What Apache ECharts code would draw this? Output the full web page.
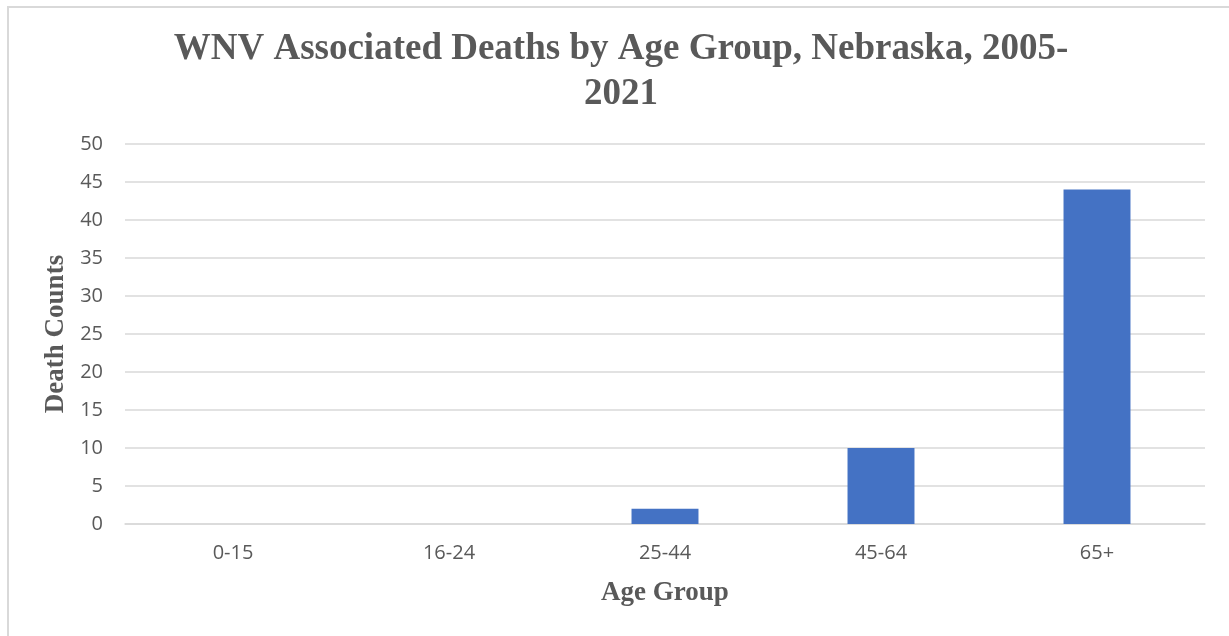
<!DOCTYPE html>
<html>
<head>
<meta charset="utf-8">
<script src="https://cdn.jsdelivr.net/npm/echarts@6/dist/echarts.min.js"></script>
<style>
    html, body {margin: 0; padding: 0; background: #fff;}
    #main {width: 1229px; height: 636px;}
</style>
</head>
<body>
<div id="main"></div>
<script>
// data
let ageGroups = ['0-15', '16-24', '25-44', '45-64', '65+'];
let deathCounts = [0, 0, 2, 10, 44];
let yTicks = {min: 0, max: 50, interval: 5};

let myChart = echarts.init(document.getElementById('main'));

let option = {
    title: {
        text: 'WNV Associated Deaths by Age Group, Nebraska, 2005-\n2021',
        left: 616,
        top: 22,
        textAlign: 'center',
        textStyle: {
            fontFamily: 'Liberation Serif',
            fontWeight: 'bold',
            fontSize: 37,
            lineHeight: 45,
            color: '#595959'
        }
    },
    graphic: [
        {
            type: 'rect',
            shape: {x: 8, y: 7, width: 1260, height: 700},
            style: {fill: 'none', stroke: '#d9d9d9', lineWidth: 2},
            silent: true
        }
    ],
    grid: {
        left: 125,
        right: 24,
        top: 144,
        bottom: 112
    },
    xAxis: {
        type: 'category',
        data: ageGroups,
        name: 'Age Group',
        nameLocation: 'middle',
        nameGap: 56,
        nameTextStyle: {
            fontFamily: 'Liberation Serif',
            fontWeight: 'bold',
            fontSize: 27,
            color: '#595959'
        },
        axisLine: {lineStyle: {color: '#d9d9d9', width: 1.5}},
        axisTick: {show: false},
        axisLabel: {
            fontFamily: 'Open Sans',
            fontSize: 20,
            color: '#595959',
            margin: 19
        }
    },
    yAxis: {
        type: 'value',
        min: yTicks.min,
        max: yTicks.max,
        interval: yTicks.interval,
        name: 'Death Counts',
        nameLocation: 'middle',
        nameGap: 43,
        nameRotate: 90,
        nameTextStyle: {
            fontFamily: 'Liberation Serif',
            fontWeight: 'bold',
            fontSize: 27,
            color: '#595959'
        },
        axisLine: {show: false},
        axisTick: {show: false},
        splitLine: {lineStyle: {color: '#d9d9d9', width: 1.5}},
        axisLabel: {
            fontFamily: 'Open Sans',
            fontSize: 20,
            color: '#595959',
            margin: 22
        }
    },
    series: [
        {
            name: 'Death Counts',
            type: 'bar',
            data: deathCounts,
            barWidth: '31%',
            itemStyle: {color: '#4472C4'}
        }
    ]
};

myChart.setOption(option);
</script>
</body>
</html>
